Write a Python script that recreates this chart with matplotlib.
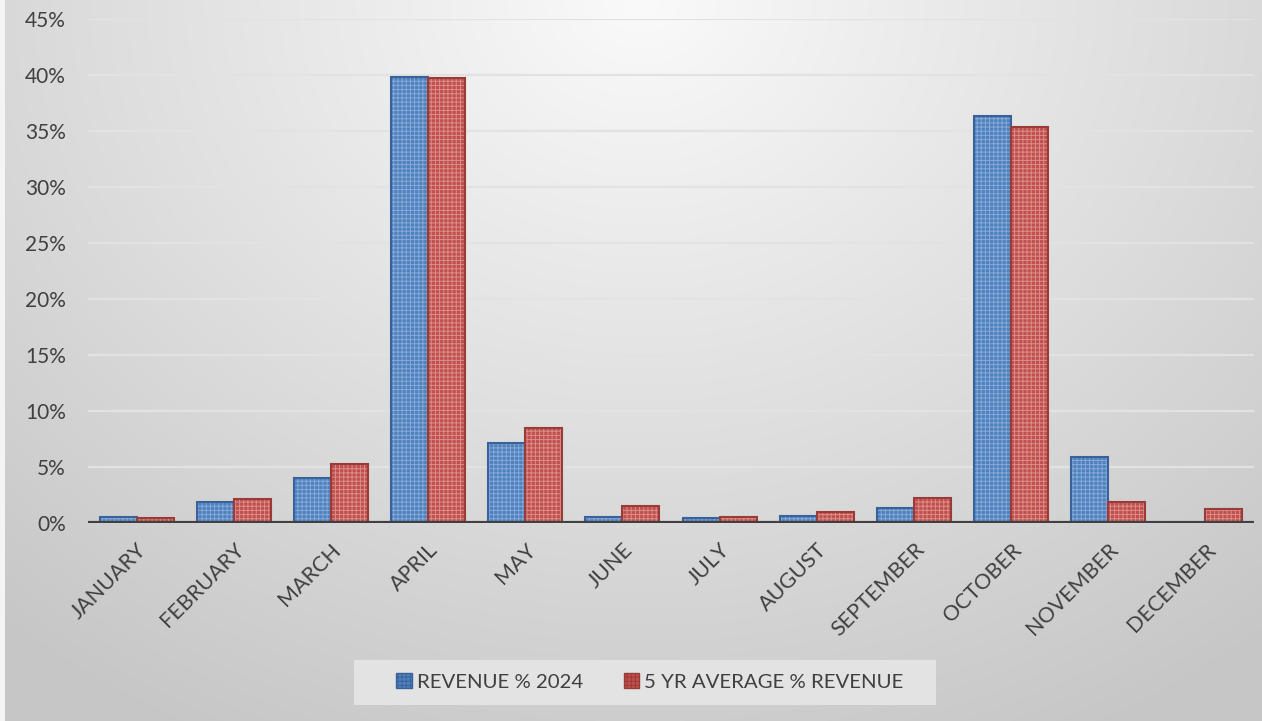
import numpy as np
import matplotlib
matplotlib.use("Agg")
import matplotlib.pyplot as plt
from matplotlib.patches import Patch, Rectangle
from matplotlib.ticker import FuncFormatter

plt.rcParams['font.family'] = ['Lato', 'DejaVu Sans']

months = ["JANUARY", "FEBRUARY", "MARCH", "APRIL", "MAY", "JUNE",
          "JULY", "AUGUST", "SEPTEMBER", "OCTOBER", "NOVEMBER", "DECEMBER"]
rev_2024 = [0.54, 1.9, 4.0, 39.8, 7.1, 0.5, 0.45, 0.6, 1.3, 36.3, 5.9, 0.0]
avg_5yr = [0.45, 2.1, 5.3, 39.7, 8.5, 1.5, 0.5, 1.0, 2.2, 35.4, 1.9, 1.25]
series_names = ["REVENUE % 2024", "5 YR AVERAGE % REVENUE"]

W, H = 1262, 721
fig = plt.figure(figsize=(W / 100, H / 100), dpi=100)

# soft grey background, brightest at the top middle
bg_ax = fig.add_axes([0, 0, 1, 1])
yy, xx = np.mgrid[0:H, 0:W]
d = np.sqrt(((xx - 640) / 640 * 0.75) ** 2 + (yy / 721) ** 2)
shade = np.clip(250 - 45 * d, 198, 255) / 255.0
bg = np.dstack([shade, shade, shade])
bg[:, :5] = 0.96
bg_ax.imshow(bg, aspect='auto', extent=(0, 1, 0, 1), origin='upper')
bg_ax.axis('off')

ax = fig.add_axes([88 / W, 1 - 523 / H, (1254 - 88) / W, (523 - 19) / H])
ax.set_facecolor('none')

x = np.arange(len(months))
bw = 0.38
text_col = '#404040'

styles = [
    dict(face='#4f81bd', pat='#86a9d9', edge='#3a629a'),
    dict(face='#c0504d', pat='#dc8c8a', edge='#983b39'),
]
plt.rcParams['hatch.linewidth'] = 0.7
for vals, off, st in [(rev_2024, -bw / 2, styles[0]), (avg_5yr, bw / 2, styles[1])]:
    ax.bar(x + off, vals, bw, color=st['face'], edgecolor=st['pat'],
           hatch='++++', linewidth=0, zorder=3)
    ax.bar(x + off, vals, bw, fill=False, edgecolor=st['edge'],
           linewidth=1.5, zorder=4)

ax.set_xlim(-0.5, len(months) - 0.5)
ax.set_ylim(0, 45)
ax.set_yticks(np.arange(0, 46, 5))
ax.yaxis.set_major_formatter(FuncFormatter(lambda v, p: f"{v:.0f}%"))
ax.grid(axis='y', color='#e2e2e2', linewidth=1.6, zorder=0)
ax.axhline(0, color='#404040', linewidth=3, zorder=5)
for s in ax.spines.values():
    s.set_visible(False)

ax.set_xticks(x)
ax.set_xticklabels(months, rotation=45, ha='right', rotation_mode='anchor')
ax.tick_params(axis='both', length=0, colors=text_col)
ax.tick_params(axis='y', pad=16, labelsize=15)
ax.tick_params(axis='x', pad=12, labelsize=15.5)

# legend panel
fig.patches.append(Rectangle((354 / W, 1 - 705 / H), (936 - 354) / W, 45 / H,
                             transform=fig.transFigure, facecolor='#e3e3e3',
                             edgecolor='none', zorder=1))
handles = [Patch(facecolor=st['face'], edgecolor=st['edge'], hatch='++++',
                 linewidth=1.0) for st in styles]
leg = fig.legend(handles, series_names, loc='center',
                 bbox_to_anchor=(650 / W, 1 - 682 / H), ncol=2,
                 frameon=False, fontsize=14.7,
                 handlelength=0.75, handleheight=0.75, handletextpad=0.25,
                 columnspacing=2.0)
for t in leg.get_texts():
    t.set_color(text_col)

fig.savefig("out.png", dpi=100)
